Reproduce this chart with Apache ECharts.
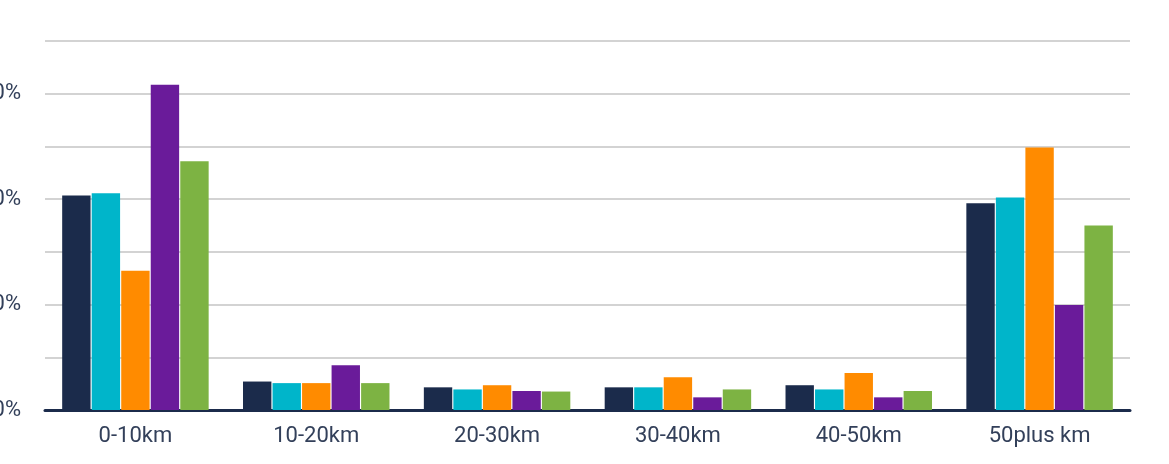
<!DOCTYPE html>
<html>
<head>
<meta charset="utf-8">
<script src="https://cdn.jsdelivr.net/npm/echarts@6/dist/echarts.min.js"></script>
<style>
  html, body { margin: 0; padding: 0; background: #fff; }
  #chart { width: 1169px; height: 464px; }
</style>
</head>
<body>
<div id="chart"></div>
<script>
// distance bands
const categories = ['0-10km', '10-20km', '20-30km', '30-40km', '40-50km', '50plus km']

// share of trips per band (%), one array per group
const seriesA = [40.7, 5.4, 4.3, 4.3, 4.7, 39.2]
const seriesB = [41.1, 5.1, 3.9, 4.3, 3.9, 40.3]
const seriesC = [26.4, 5.1, 4.7, 6.2, 7.0, 49.8]
const seriesD = [61.7, 8.5, 3.6, 2.4, 2.4, 19.9]
const seriesE = [47.2, 5.1, 3.5, 3.9, 3.6, 35.0]

const seriesNames = ['Group 1', 'Group 2', 'Group 3', 'Group 4', 'Group 5']
const colors = ['#1b2b4b', '#00b5ca', '#ff8b00', '#6a1b9a', '#7db343']

const chart = echarts.init(document.getElementById('chart'))

const allData = [seriesA, seriesB, seriesC, seriesD, seriesE]

chart.setOption({
  animation: false,
  textStyle: { fontFamily: 'Roboto' },
  grid: {
    left: 45,
    right: 39,
    top: 41,
    bottom: 54,
    containLabel: false,
    outerBoundsMode: 'none'
  },
  xAxis: {
    type: 'category',
    data: categories,
    axisTick: { show: false },
    axisLine: { lineStyle: { color: '#1b2b4b', width: 3 } },
    axisLabel: {
      color: '#33405a',
      fontSize: 22,
      margin: 15
    }
  },
  yAxis: {
    type: 'value',
    min: 0,
    max: 70,
    interval: 10,
    axisLine: { show: false },
    axisTick: { show: false },
    splitLine: { lineStyle: { color: '#d3d3d3', width: 2 } },
    axisLabel: {
      color: '#33405a',
      fontSize: 22,
      margin: 24,
      formatter: (value) => (value % 20 === 0 ? `${value}%` : '')
    }
  },
  series: allData.map((data, i) => ({
    name: seriesNames[i],
    type: 'bar',
    data: data,
    barGap: '4%',
    barCategoryGap: '19%',
    itemStyle: { color: colors[i] }
  }))
})
</script>
</body>
</html>
